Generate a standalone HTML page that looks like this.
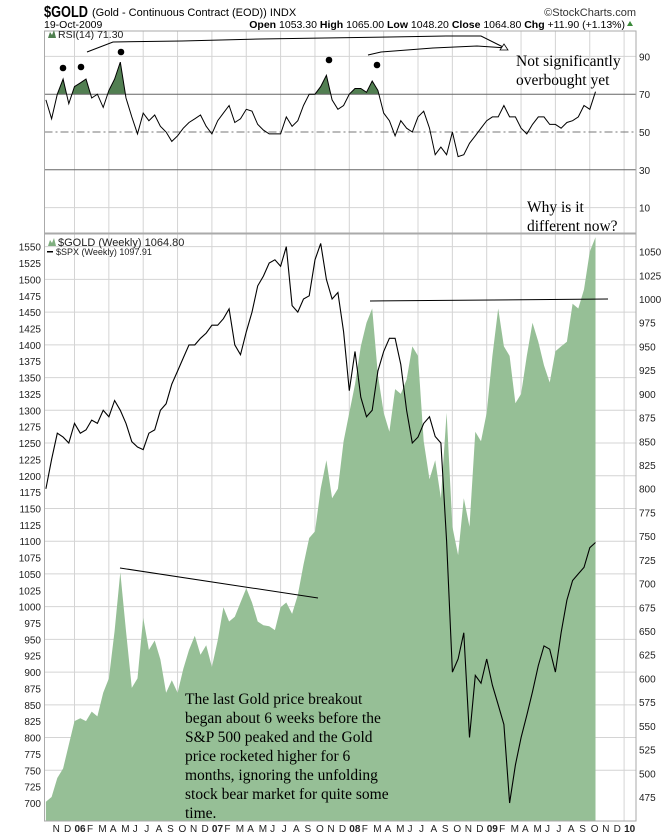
<!DOCTYPE html>
<html><head><meta charset="utf-8"><style>
body{margin:0;background:#fff}
svg{display:block;font-family:"Liberation Sans",sans-serif}
.ax{font-size:10px;fill:#222}
.ann{font-family:"Liberation Serif",serif;font-size:15.5px;fill:#000}
</style></head><body>
<svg id="c" width="670" height="838" viewBox="0 0 670 838">
<g>
<text x="44" y="17" font-size="16" font-weight="bold" textLength="44" lengthAdjust="spacingAndGlyphs">$GOLD</text>
<text x="92" y="16" font-size="11">(Gold - Continuous Contract (EOD)) INDX</text>
<text x="636" y="16" font-size="11" fill="#333" text-anchor="end">©StockCharts.com</text>
<text x="44" y="28" font-size="10.5">19-Oct-2009</text>
<text x="625" y="28" font-size="10.5" text-anchor="end"><tspan font-weight="bold">Open</tspan> 1053.30 <tspan font-weight="bold">High</tspan> 1065.00 <tspan font-weight="bold">Low</tspan> 1048.20 <tspan font-weight="bold">Close</tspan> 1064.80 <tspan font-weight="bold">Chg</tspan> +11.90 (+1.13%)</text>
<path d="M627 26 L633 26 L630 21 Z" fill="#3a8a3a"/>
</g>
<g id="grid"></g>
<g id="rsi"></g>
<g id="main"></g>
<g id="xax"></g>
<g>
<path d="M87 52 L113 42 L182 41 L260 39 L390 37 L446 36 L481 36 L505 48" fill="none" stroke="#000" stroke-width="1"/>
<path d="M368 55 L381 52 L433 48 L477 46 L507 48" fill="none" stroke="#000" stroke-width="1"/>
<path d="M500 50 L508 50 L504 44 Z" fill="#fff" stroke="#000" stroke-width="0.8"/>
<circle cx="63" cy="68" r="3.3" fill="#000"/>
<circle cx="81" cy="67" r="3.3" fill="#000"/>
<circle cx="121" cy="52" r="3.3" fill="#000"/>
<circle cx="329" cy="60" r="3.3" fill="#000"/>
<circle cx="377" cy="65" r="3.3" fill="#000"/>
<text class="ann" x="516" y="66"><tspan x="516">Not significantly</tspan><tspan x="516" dy="19">overbought yet</tspan></text>
<text class="ann" x="527" y="212"><tspan x="527">Why is it</tspan><tspan x="527" dy="19">different now?</tspan></text>
<line x1="120" y1="568" x2="318" y2="598" stroke="#000"/>
<line x1="370" y1="301" x2="608" y2="299" stroke="#000"/>
<text class="ann" x="185" y="704"><tspan x="185">The last Gold price breakout</tspan><tspan x="185" dy="19">began about 6 weeks before the</tspan><tspan x="185" dy="19">S&amp;P 500 peaked and the Gold</tspan><tspan x="185" dy="19">price rocketed higher for 6</tspan><tspan x="185" dy="19">months, ignoring the unfolding</tspan><tspan x="185" dy="19">stock bear market for quite some</tspan><tspan x="185" dy="19">time.</tspan></text>
</g>
<g>
<path d="M48 246 L50 240 L52 243 L54 238 L56 246 Z" fill="#7fae7f"/>
<text x="58" y="246" font-size="11" fill="#222">$GOLD (Weekly) 1064.80</text>
<rect x="47" y="251" width="6" height="1.5" fill="#000"/>
<text x="56" y="255" font-size="9" fill="#222">$SPX (Weekly) 1097.91</text>
<path d="M48 38 L50 32 L52 35 L54 30 L56 38 Z" fill="#4f7f4f"/>
<text x="58" y="38" font-size="10.5" fill="#222">RSI(14) 71.30</text>
</g>
</svg>
<script>
// semi-monthly samples starting mid-Oct 2005
const goldValues = [470,475,495,505,530,555,558,555,565,560,
585,600,650,712,650,590,600,664,630,640,620,585,598,585,610,630,645,625,635,612,640,675,660,665,680,695,680,660,656,655,651,675,680,668,688,720,748,755,800,830,790,800,850,880,
910,950,975,990,920,880,860,905,900,915,950,940,850,810,830,790,880,760,730,790,760,860,850,880,
940,990,950,940,890,900,940,975,955,930,912,945,950,955,995,990,1010,1050,1065];
const spxValues = [1180,1225,1265,1259,1250,1280,1265,1270,1285,1280,
1300,1290,1315,1300,1280,1252,1244,1240,1265,1270,1300,1310,1340,1360,1380,1400,1400,1410,1418,1430,
1430,1440,1455,1400,1385,1420,1450,1490,1505,1525,1530,1520,1550,1460,1450,1470,1475,1530,1555,1500,1470,1480,1420,1330,
1390,1320,1290,1300,1360,1390,1410,1410,1370,1300,1250,1259,1280,1290,1260,1250,1100,900,920,960,800,895,883,920,
880,850,820,700,758,800,834,870,910,940,935,900,960,1010,1040,1050,1060,1090,1098];
const rsiValues = [67,57,70,78,65,74,76,78,68,70,63,72,78,87,68,58,49,60,56,59,53,50,45,48,52,55,57,59,53,49,56,60,64,55,57,62,61,54,51,49,49,49,58,53,56,64,70,70,74,80,67,62,64,70,73,73,71,77,72,60,56,48,56,52,50,58,61,52,38,42,38,50,37,38,44,48,52,56,58,58,64,58,58,52,49,54,58,58,54,54,52,55,56,58,64,62,71.3];
const rsiTicks = [90,70,50,30,10];
const spxTicks = [];for(let v=700;v<=1550;v+=25)spxTicks.push(v);
const goldTicks = [];for(let v=475;v<=1050;v+=25)goldTicks.push(v);
const monthLabels = ["N","D","06","F","M","A","M","J","J","A","S","O","N","D","07","F","M","A","M","J","J","A","S","O","N","D","08","F","M","A","M","J","J","A","S","O","N","D","09","F","M","A","M","J","J","A","S","O","N","D","10"];

const NS="http://www.w3.org/2000/svg";
const L=44.5,R=636,RT=31,RB=233,MT=234,MB=821;
const xOfMonth=m=>74.5+m*11.45;
const xOfIdx=i=>45.9+i*5.725;
const yRsi=v=>132-(v-50)*1.89;
const ySpx=v=>803-(v-700)*0.6545;
const yGold=v=>631-(v-650)*0.9486;
function mk(parent,tag,attrs){const e=document.createElementNS(NS,tag);for(const k in attrs)e.setAttribute(k,attrs[k]);document.getElementById(parent).appendChild(e);return e;}

for(let q=-1;q<=16;q++){const x=xOfMonth(q*3);if(x<=L||x>=R)continue;
 let g=mk('grid','line',{x1:x,x2:x,y1:RT,y2:RB,stroke:'#d4d4d4'});
 
 
 g=mk('grid','line',{x1:x,x2:x,y1:MT,y2:MB,stroke:'#d4d4d4'});
 
 }
for(let v=750;v<=1550;v+=50){const g=mk('grid','line',{x1:L,x2:R,y1:ySpx(v),y2:ySpx(v),stroke:'#d4d4d4'});
 
 }
[90,10].forEach(v=>{const g=mk('grid','line',{x1:L,x2:R,y1:yRsi(v),y2:yRsi(v),stroke:'#d4d4d4'});
 
 });

let e;
const rpts=rsiValues.map((v,i)=>[xOfIdx(i),yRsi(v)]);
const y70=yRsi(70);
e=mk('rsi','clipPath',{id:'above70'});
const cr=document.createElementNS(NS,'rect');cr.setAttribute('x',L);cr.setAttribute('y',RT);cr.setAttribute('width',R-L);cr.setAttribute('height',y70-RT);e.appendChild(cr);
e=mk('rsi','path',{d:'M'+rpts[0][0]+','+y70+' '+rpts.map(p=>'L'+p[0].toFixed(1)+','+p[1].toFixed(1)).join(' ')+' L'+rpts[rpts.length-1][0]+','+y70+'Z',fill:'#527f52','clip-path':'url(#above70)'});


[[70,'#666',''],[30,'#666',''],[50,'#777','8,3,2,3']].forEach(([v,c,d])=>{
 e=mk('rsi','line',{x1:L,x2:R,y1:yRsi(v),y2:yRsi(v),stroke:c,'stroke-dasharray':d});
 
 });
e=mk('rsi','path',{d:'M'+rpts.map(p=>p[0].toFixed(1)+','+p[1].toFixed(1)).join(' L'),fill:'none',stroke:'#000','stroke-width':1});


e=mk('rsi','rect',{x:L,y:RT,width:R-L,height:RB-RT,fill:'none',stroke:'#aaa'});


rsiTicks.forEach(v=>{e=mk('rsi','text',{x:639,y:yRsi(v)+4,class:'ax'});e.textContent=v;
 
 });

const gpts=goldValues.map((v,i)=>[xOfIdx(i),yGold(v)]);
e=mk('main','path',{d:'M'+gpts[0][0]+','+MB+' '+gpts.map(p=>'L'+p[0].toFixed(1)+','+p[1].toFixed(1)).join(' ')+' L'+gpts[gpts.length-1][0].toFixed(1)+','+MB+'Z',fill:'#96bf96'});


const spts=spxValues.map((v,i)=>[xOfIdx(i),ySpx(v)]);
e=mk('main','path',{d:'M'+spts.map(p=>p[0].toFixed(1)+','+p[1].toFixed(1)).join(' L'),fill:'none',stroke:'#000','stroke-width':1.1});


e=mk('main','rect',{x:L,y:MT,width:R-L,height:MB-MT,fill:'none',stroke:'#aaa'});


spxTicks.forEach(v=>{e=mk('main','text',{x:41,y:ySpx(v)+4,class:'ax','text-anchor':'end'});e.textContent=v;
 
 });
goldTicks.forEach(v=>{e=mk('main','text',{x:639,y:yGold(v)+4,class:'ax'});e.textContent=v;
 
 });

monthLabels.forEach((t,k)=>{const x=xOfMonth(k-2);
 e=mk('xax','text',{x:x+(t.length>1?0:1),y:832,class:'ax','font-weight':t.length>1?'bold':'normal'});
 e.textContent=t;
 
 });
</script>
</body></html>
